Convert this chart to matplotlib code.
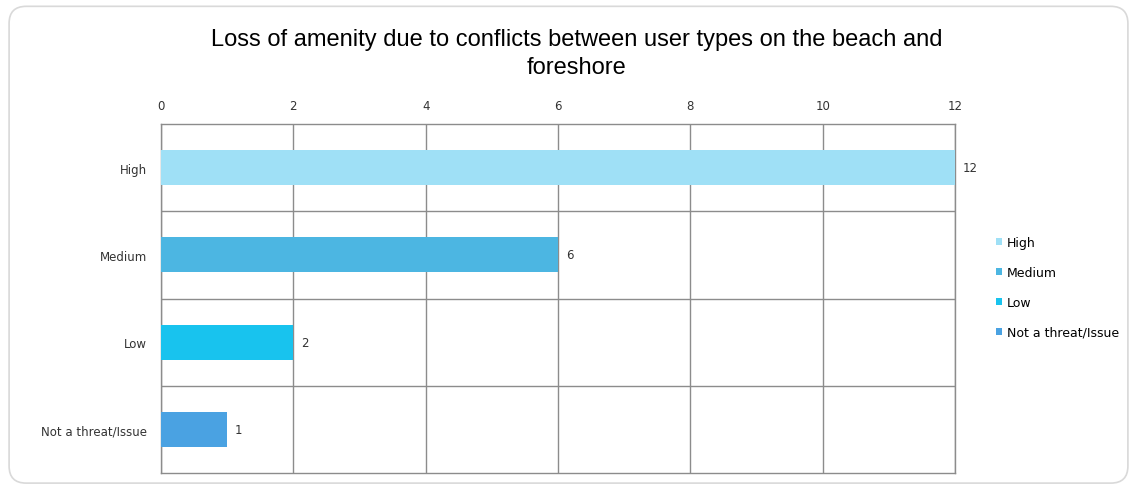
import numpy as np
import matplotlib
matplotlib.use('Agg')
import matplotlib.pyplot as plt
from matplotlib.patches import FancyBboxPatch, Patch

# 数据
categories = ['High', 'Medium', 'Low', 'Not a threat/Issue']
values = [12, 6, 2, 1]
colors = ['#9fe0f6', '#4cb6e2', '#18c3ee', '#4aa2e2']
x_ticks = [0, 2, 4, 6, 8, 10, 12]

fig = plt.figure(figsize=(11.37, 4.89), dpi=100)

# 外框（圆角），放在最底层
frame = FancyBboxPatch((0.008, 0.01), 0.984, 0.975, boxstyle='round,pad=0,rounding_size=0.015',
                       transform=fig.transFigure, facecolor='white', edgecolor='#d9d9d9', linewidth=1.2,
                       mutation_aspect=1137 / 489, zorder=-10)
fig.patches.append(frame)

ax = fig.add_axes([0.1416, 0.031, 0.6984, 0.713])
ax.set_zorder(5)
ax.patch.set_alpha(0)
y = np.arange(len(categories))
ax.barh(y, values, height=0.4, color=colors, zorder=3)

ax.set_xlim(0, 12)
ax.set_ylim(len(categories) - 0.5, -0.5)
ax.set_xticks(x_ticks)
ax.xaxis.tick_top()
ax.tick_params(axis='x', length=0, labelsize=8.5, pad=9, labelcolor='#333333')
ax.set_yticks(y)
ax.set_yticklabels(categories)
ax.tick_params(axis='y', length=0, labelsize=8.5, pad=10, labelcolor='#333333')

# 网格线
ax.set_yticks(np.arange(0.5, len(categories) - 0.5, 1), minor=True)
ax.tick_params(axis='y', which='minor', length=0)
ax.grid(True, axis='x', color='#8c8c8c', linewidth=1, zorder=0)
ax.grid(True, axis='y', which='minor', color='#8c8c8c', linewidth=1, zorder=0)
for s in ax.spines.values():
    s.set_color('#8c8c8c')
    s.set_linewidth(1)

# 数值标签
for yi, v in zip(y, values):
    ax.text(v + 0.12, yi, str(v), va='center', ha='left', fontsize=8.5, color='#333333')

fig.suptitle('Loss of amenity due to conflicts between user types on the beach and\nforeshore',
             x=0.507, y=0.94, fontsize=17, family='Liberation Sans', linespacing=1.35)

handles = [Patch(facecolor=c, label=l) for c, l in zip(colors, categories)]
fig.legend(handles=handles, loc='center left', bbox_to_anchor=(0.866, 0.41), frameon=False,
           fontsize=9, handlelength=0.5, handleheight=0.5, handletextpad=0.4, labelspacing=1.35)

fig.savefig('out.png', dpi=100)
